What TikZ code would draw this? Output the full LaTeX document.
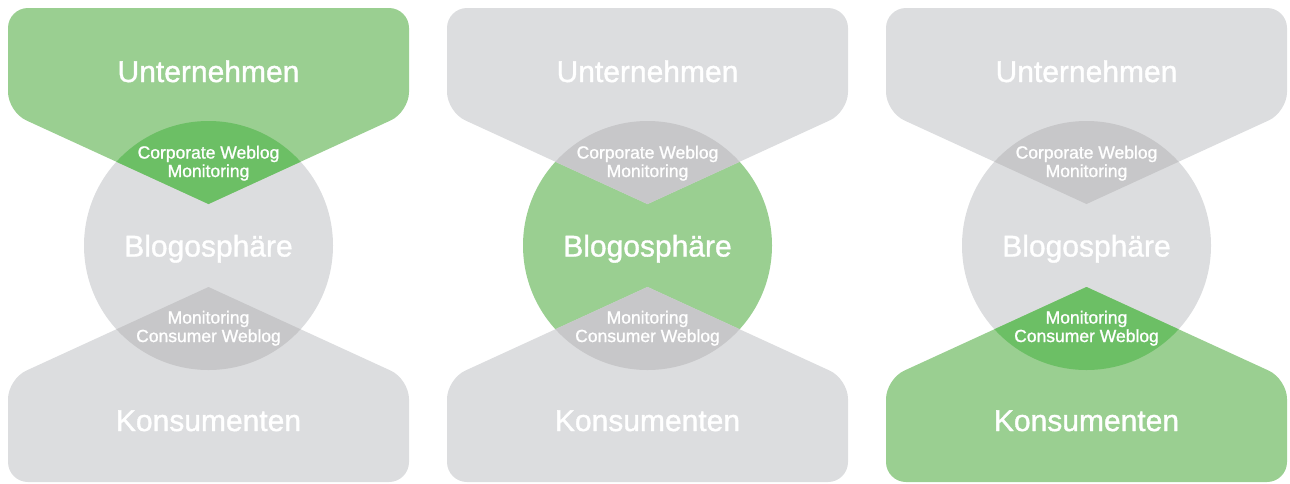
\documentclass[tikz,border=0pt]{standalone}
\usepackage{fontspec}
\setmainfont{Liberation Sans}
\newfontfamily\labelfont[FakeBold=1.2]{Liberation Sans}
\definecolor{lgreen}{RGB}{154,207,145}
\definecolor{dgreen}{RGB}{108,191,101}
\definecolor{lgray}{RGB}{220,221,223}
\definecolor{dgray}{RGB}{199,199,201}
\tikzset{
  bigtext/.style={text=white, font=\labelfont\fontsize{30}{32}\selectfont, inner sep=0pt, anchor=base},
  smalltext/.style={text=white, font=\labelfont\fontsize{17.5}{19}\selectfont, inner sep=0pt, anchor=base},
}
% #1 shift, #2 upper fill, #3 circle fill, #4 lower fill,
% #5 upper overlap, #6 lower overlap, #7 name suffix
\newcommand\drawpanel[7]{%
\begin{scope}[xshift=#1]
  \fill[#3] (208.5,245.5) circle[radius=124.5pt];
  \fill[#2, rounded corners=20pt] (208.5,204) -- (8,112) -- (8,8) -- (409,8) -- (409,112) -- (208.5,204);
  \fill[#4, rounded corners=20pt] (208.5,287) -- (8,379) -- (8,482) -- (409,482) -- (409,379) -- (208.5,287);
  \begin{scope}
    \clip (208.5,245.5) circle[radius=124.5pt];
    \fill[#5] (208.5,204) -- (8,112) -- (8,0) -- (409,0) -- (409,112) -- cycle;
    \fill[#6] (208.5,287) -- (8,379) -- (8,483) -- (409,483) -- (409,379) -- cycle;
  \end{scope}
  \node[bigtext] (u#7) at (208.5,82) {Unternehmen};
  \node[smalltext] (cw#7) at (208.5,158.5) {Corporate Weblog};
  \node[smalltext] (cm#7) at (208.5,177) {Monitoring};
  \node[bigtext] (b#7) at (208.5,256.5) {Blogosphäre};
  \node[smalltext] (mm#7) at (208.5,323.5) {Monitoring};
  \node[smalltext] (mc#7) at (208.5,342) {Consumer Weblog};
  \node[bigtext] (k#7) at (208.5,431) {Konsumenten};
\end{scope}}
\begin{document}
\begin{tikzpicture}[x=1pt,y=-1pt]
  \useasboundingbox (0,0) rectangle (1290,483);
  \drawpanel{0pt}{lgreen}{lgray}{lgray}{dgreen}{dgray}{1}
  \drawpanel{439pt}{lgray}{lgreen}{lgray}{dgray}{dgray}{2}
  \drawpanel{878pt}{lgray}{lgray}{lgreen}{dgray}{dgreen}{3}
\end{tikzpicture}
\end{document}
